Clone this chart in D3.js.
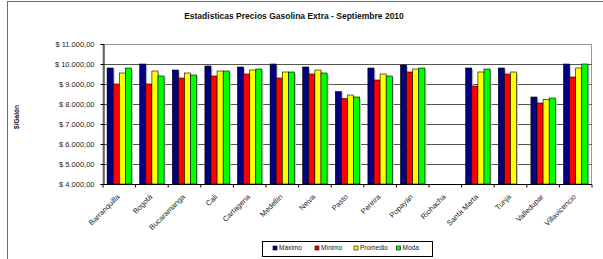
<!DOCTYPE html>
<html><head><meta charset="utf-8">
<script src="https://cdn.jsdelivr.net/npm/d3@7"></script>
<style>body{margin:0;background:#fff}svg{display:block;font-family:"Liberation Sans",Arial,sans-serif}</style>
</head><body><svg id="c" width="603" height="259"></svg>
<script>
const categories = ["Barranquilla","Bogotá","Bucaramanga","Cali","Cartagena","Medellín","Neiva","Pasto","Pereira","Popayán","Riohacha","Santa Marta","Tunja","Valledupar","Villavicencio"];
const seriesNames = ["Máximo","Mínimo","Promedio","Moda"];
const seriesColors = ["#000080","#FF0000","#FFFF00","#00FF00"];
const maximo   = [9800,10000,9700,9900,9850,10000,9850,8620,9800,9950,null,9800,9800,8350,10000];
const minimo   = [9000,9000,9300,9400,9500,9300,9500,8270,9200,9600,null,8900,9500,8050,9350];
const promedio = [9550,9650,9550,9650,9700,9600,9700,8450,9500,9750,null,9600,9600,8220,9800];
const moda     = [9800,9400,9450,9650,9750,9600,9550,8350,9400,9800,null,9750,null,8300,10000];
const yTicks = [4000,5000,6000,7000,8000,9000,10000,11000];
const seriesValues = [maximo, minimo, promedio, moda];

const svg = d3.select("#c");
const L = 103, R = 592, T = 44, B = 184;

svg.append("rect").attr("x",7.5).attr("y",1.5).attr("width",620).attr("height",300)
  .attr("fill","none").attr("stroke","#6b6b6b").attr("stroke-width",1);

const x = d3.scaleBand().domain(categories).range([L,R]).padding(0);
const xs = d3.scaleBand().domain(d3.range(4)).range([0,x.bandwidth()]).paddingInner(0).paddingOuter(0.67);
const y = d3.scaleLinear().domain([4000,11000]).range([B,T]);

svg.append("rect").attr("x",L).attr("y",T+0.5).attr("width",R-L-0.5).attr("height",B-T)
  .attr("fill","none").attr("stroke","#999").attr("stroke-width",1);

svg.append("g").selectAll("line").data(yTicks.slice(1)).join("line")
  .attr("x1",L).attr("x2",R).attr("y1",d=>Math.round(y(d))+0.5).attr("y2",d=>Math.round(y(d))+0.5)
  .attr("stroke",d=>d===11000?"#999":"#555").attr("stroke-width",1);

const data = [];
categories.forEach((c,i)=>seriesValues.forEach((s,j)=>{ if(s[i]!=null) data.push({c,j,v:s[i]}); }));
const g = svg.append("g");
g.selectAll("rect.sh").data(data).join("rect").attr("class","sh")
  .attr("x",d=>x(d.c)+xs(d.j)+1.5).attr("y",d=>y(d.v)+1.5)
  .attr("width",xs.bandwidth()).attr("height",d=>B-y(d.v)-1.5)
  .attr("fill","#c8c8c8");
g.selectAll("rect.b").data(data).join("rect").attr("class","b")
  .attr("x",d=>x(d.c)+xs(d.j)).attr("y",d=>y(d.v))
  .attr("width",xs.bandwidth()).attr("height",d=>B-y(d.v))
  .attr("fill",d=>seriesColors[d.j]).attr("stroke","#000").attr("stroke-width",0.6);

const ya = svg.append("g").attr("transform",`translate(${L+0.5},0)`)
  .call(d3.axisLeft(y).tickValues(yTicks).tickSize(3).tickPadding(6)
    .tickFormat(d=>"$ "+d3.format(",.2f")(d).replace(/,/g,"#").replace(".",",").replace(/#/g,".")));
ya.select(".domain").attr("stroke","#000");
ya.selectAll(".tick line").attr("stroke","#000");
ya.selectAll("text").attr("font-size","7.5px").attr("fill","#222").attr("font-family","Liberation Sans, Arial");

const xa = svg.append("g").attr("transform",`translate(0,${B+0.5})`);
xa.append("line").attr("x1",L).attr("x2",R).attr("stroke","#000");
xa.selectAll("line.t").data(categories.concat(["_end"])).join("line").attr("class","t")
  .attr("x1",(d,i)=>i<categories.length?x(d):R).attr("x2",(d,i)=>i<categories.length?x(d):R)
  .attr("y1",0).attr("y2",3).attr("stroke","#000");
xa.selectAll("text").data(categories).join("text")
  .attr("transform",d=>`translate(${x(d)+x.bandwidth()/2-1},11) rotate(-45)`)
  .attr("text-anchor","end").attr("font-size","7.5px").attr("fill","#222")
  .attr("dy","0.35em").text(d=>d);

svg.append("text").attr("x",294).attr("y",19).attr("text-anchor","middle")
  .attr("font-size","8.5px").attr("font-weight","bold").attr("fill","#111")
  .text("Estadisticas Precios Gasolina Extra - Septiembre 2010");

svg.append("text").attr("transform","translate(19,117) rotate(-90)").attr("text-anchor","middle")
  .attr("font-size","6.5px").attr("font-weight","bold").attr("fill","#111").text("$/Galón");

const lg = svg.append("g");
lg.append("rect").attr("x",262.5).attr("y",241.5).attr("width",170).attr("height",15)
  .attr("fill","#fff").attr("stroke","#000");
const lx = [273,315,354,396.5];
seriesNames.forEach((n,i)=>{
  lg.append("rect").attr("x",lx[i]).attr("y",246).attr("width",4).attr("height",4)
    .attr("fill",seriesColors[i]).attr("stroke","#000").attr("stroke-width",0.6);
  lg.append("text").attr("x",lx[i]+6).attr("y",250.3).attr("font-size","6.5px").attr("fill","#111").text(n);
});
</script></body></html>
